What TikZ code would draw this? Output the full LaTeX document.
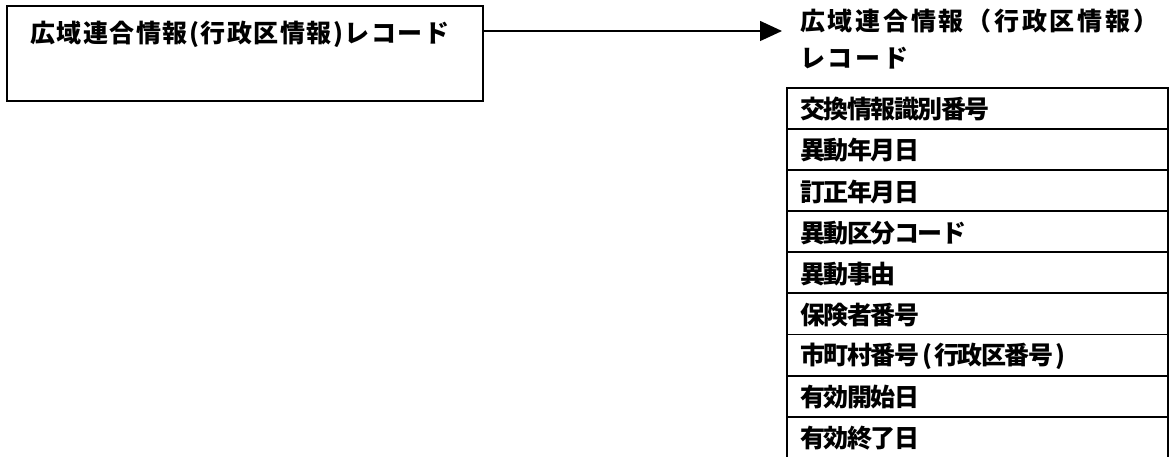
\documentclass[tikz,border=0pt]{standalone}
\usepackage{fontspec}
\setmainfont{Noto Sans CJK JP}
\usetikzlibrary{arrows.meta}
\begin{document}
\begin{tikzpicture}[x=1pt,y=-1pt,
  boxline/.style={draw=black,line width=1.8pt},
  rowbox/.style={boxline,minimum width=381pt,minimum height=41.1pt,inner sep=0pt,anchor=north west},
  rowtext/.style={anchor=west,inner sep=0pt,font=\fontsize{25pt}{25pt}\selectfont\bfseries\addfontfeature{LetterSpace=-6}},
  arr/.style={line width=1.5pt,-{Triangle[length=22pt,width=20pt]}}]
\useasboundingbox (0,0) rectangle (1171,457);
\node[boxline,anchor=north west,minimum width=476pt,minimum height=95pt,inner sep=0pt] (lbox) at (6,5) {};
\node[anchor=west,inner sep=0pt,font=\fontsize{25pt}{25pt}\selectfont\bfseries\addfontfeature{LetterSpace=6}] (ltext) at (30,34) {広域連合情報(行政区情報)レコード};
\node[anchor=north west,inner sep=0pt,align=left,font=\fontsize{25pt}{37pt}\selectfont\bfseries\addfontfeature{LetterSpace=11}] (title) at (800,9) {広域連合情報（行政区情報）\\レコード};
\coordinate (tip) at (782,31);
\draw[arr] (lbox.east |- tip) -- (tip);
\foreach \t [count=\i] in {交換情報識別番号,異動年月日,訂正年月日,異動区分コード,異動事由,保険者番号,{市町村番号\kern3pt(\kern2pt行政区番号\kern2pt)},有効開始日,有効終了日}{
  \node[rowbox] (r\i) at (786,{87+41.1*(\i-1)}) {};
  \node[rowtext] (rt\i) at ([xshift=14pt,yshift=-1pt]r\i.west) {\t};
}
\end{tikzpicture}
\end{document}
